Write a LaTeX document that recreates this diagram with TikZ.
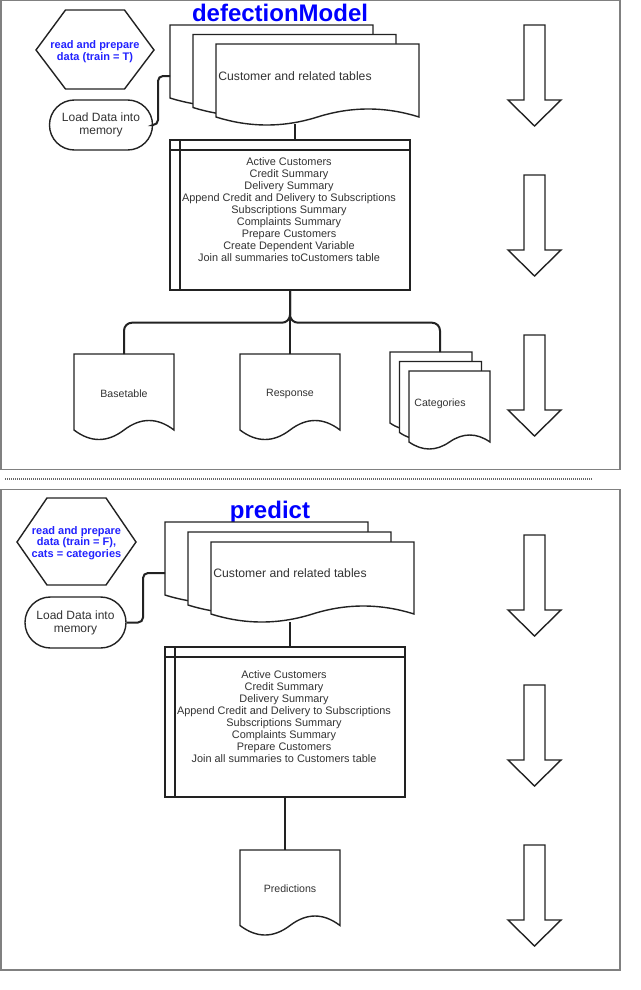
\documentclass[tikz,border=0pt]{standalone}
\usepackage{fontspec}
\setmainfont{Liberation Sans}
\usetikzlibrary{calc}
\definecolor{txt}{HTML}{333333}
\definecolor{ln}{HTML}{222222}
\definecolor{framec}{HTML}{808080}
\definecolor{dotc}{HTML}{666666}
\definecolor{ttl}{HTML}{0000FF}
\definecolor{hext}{HTML}{2222FF}
\tikzset{
  shapeline/.style={draw=ln, fill=white, line width=1.4pt, line join=miter},
  innerline/.style={draw=ln, line width=1.8pt},
  conn/.style={draw=ln, line width=2pt},
  framebox/.style={draw=framec, line width=1.4pt},
  body/.style={text=txt, inner sep=0pt, align=center},
  proctext/.style={body, font=\fontsize{10.9}{12}\selectfont},
  doctext/.style={body, font=\fontsize{10.6}{12}\selectfont},
  bigtext/.style={body, font=\fontsize{12.2}{13}\selectfont},
  hextext/.style={text=hext, inner sep=0pt, align=center, font=\fontsize{11}{11.8}\selectfont\bfseries},
  titletext/.style={text=ttl, inner sep=0pt, anchor=base, font=\fontsize{24}{28}\selectfont\bfseries},
  term/.style={draw=ln, fill=white, line width=1.4pt, rounded corners=24.9pt, minimum width=103pt, minimum height=50pt, inner sep=0pt, align=center, text=txt, font=\fontsize{12}{13}\selectfont},
  procbox/.style={draw=ln, fill=white, line width=1.4pt, minimum width=240pt, minimum height=150pt, inner sep=0pt},
}
% document shape: x, y(top), w, e (edge end), a (wave amplitude)
\newcommand{\docshape}[5]{%
  \filldraw[shapeline] (#1,#2) -- (#1+#3,#2) -- (#1+#3,#2+#4)
    .. controls (#1+5*#3/6,#2+#4-4*#5/3) and (#1+2*#3/3,#2+#4-4*#5/3) .. (#1+#3/2,#2+#4)
    .. controls (#1+#3/3,#2+#4+4*#5/3) and (#1+#3/6,#2+#4+4*#5/3) .. (#1,#2+#4) -- cycle;}
\newcommand{\blockarrow}[1]{%
  \filldraw[shapeline] (524,#1) -- (545,#1) -- (545,#1+75) -- (561,#1+75) -- (534.5,#1+101) -- (508,#1+75) -- (524,#1+75) -- cycle;}
\begin{document}
\begin{tikzpicture}[x=1pt,y=-1pt]
\useasboundingbox (0,0) rectangle (640,990);
\fill[white] (0,0) rectangle (640,990);

% ---------- panels ----------
\draw[framebox] (0.8,0.8) rectangle (620,469.5);
\draw[framebox] (0.8,489.5) rectangle (620,970);
\draw[draw=dotc, line width=2pt, dash pattern=on 1pt off 1pt] (5,479) -- (593,479);

% ================= TOP PANEL =================
\node[titletext] (title1) at (280,22) {defectionModel};

% hexagon
\filldraw[shapeline] (36,50) -- (65.5,10) -- (124.5,10) -- (154,50) -- (124.5,89) -- (65.5,89) -- cycle;
\node[hextext] (hex1) at (95,51.5) {read and prepare\\data (train = T)};

% load data
\node[term] (load1) at (101,125) {Load Data into\\memory};

% multi document
\docshape{170}{25}{203}{73}{8}
\docshape{193}{34.5}{203}{73}{8}
\docshape{216}{44}{203}{73}{8}
\node[bigtext] (cust1) at (295,76) {Customer and related tables};
\coordinate (md1in) at (170,76);
\coordinate (md1out) at (295,124);

% process
\node[procbox] (proc1) at (290,215) {};
\draw[innerline] ([xshift=10.5pt]proc1.north west) -- ([xshift=10.5pt]proc1.south west);
\draw[innerline] ([yshift=-10.5pt]proc1.north west) -- ([yshift=-10.5pt]proc1.north east);
\node[proctext] (proc1txt) at (289,210) {Active Customers\\Credit Summary\\Delivery Summary\\Append Credit and Delivery to Subscriptions\\Subscriptions Summary\\Complaints Summary\\Prepare Customers\\Create Dependent Variable\\Join all summaries toCustomers table};

% outputs
\docshape{74}{354}{100}{76}{9.5}
\node[doctext] (base1) at (124,393.5) {Basetable};
\docshape{240}{354}{100}{76}{9.5}
\node[doctext] (resp1) at (290,393.5) {Response};
\docshape{390}{352}{82}{71}{7}
\docshape{399.5}{361.5}{82}{71}{7}
\docshape{409}{371}{81}{71}{7}
\node[doctext] (cat1) at (440,403.5) {Categories};
\coordinate (base1top) at (124,354);
\coordinate (resp1top) at (290,354);
\coordinate (cat1top) at (440,352);

% connectors
\draw[conn, rounded corners=5pt] (load1.east) -- (158,125) |- (md1in);
\draw[conn] (md1out) -- ([xshift=5pt]proc1.north);
\draw[conn, rounded corners=8pt] (proc1.south) -- ++(0,32) -| (base1top);
\draw[conn, rounded corners=8pt] (proc1.south) -- ++(0,32) -| (cat1top);
\draw[conn] (proc1.south) -- (resp1top);

% block arrows
\blockarrow{25}
\blockarrow{175}
\blockarrow{335}

% ================= BOTTOM PANEL =================
\node[titletext] (title2) at (270,518) {predict};

\filldraw[shapeline] (17,542) -- (47,498) -- (106,498) -- (136,542) -- (106,585) -- (47,585) -- cycle;
\node[hextext] (hex2) at (76.5,543) {read and prepare\\data (train = F),\\cats = categories};

\node[term, minimum width=101pt, minimum height=51pt, rounded corners=25.4pt] (load2) at (75.5,622.5) {Load Data into\\memory};

\docshape{165}{522}{203}{73}{8}
\docshape{188}{532}{203}{73}{8}
\docshape{211}{542}{203}{72}{8}
\node[bigtext] (cust2) at (290,573) {Customer and related tables};
\coordinate (md2in) at (165,573);
\coordinate (md2out) at (290,622);

\node[procbox] (proc2) at (285,722) {};
\draw[innerline] ([xshift=10.5pt]proc2.north west) -- ([xshift=10.5pt]proc2.south west);
\draw[innerline] ([yshift=-10.5pt]proc2.north west) -- ([yshift=-10.5pt]proc2.north east);
\node[proctext] (proc2txt) at (284,717) {Active Customers\\Credit Summary\\Delivery Summary\\Append Credit and Delivery to Subscriptions\\Subscriptions Summary\\Complaints Summary\\Prepare Customers\\Join all summaries to Customers table};

\docshape{240}{850}{100}{75.5}{9.5}
\node[doctext] (pred2) at (290,888.5) {Predictions};
\coordinate (pred2top) at (285,850);

\draw[conn, rounded corners=5pt] (load2.east) -- (143,622.5) |- (md2in);
\draw[conn] (md2out) -- ([xshift=5pt]proc2.north);
\draw[conn] (proc2.south) -- (pred2top);

\blockarrow{535}
\blockarrow{685}
\blockarrow{845}
\end{tikzpicture}
\end{document}
